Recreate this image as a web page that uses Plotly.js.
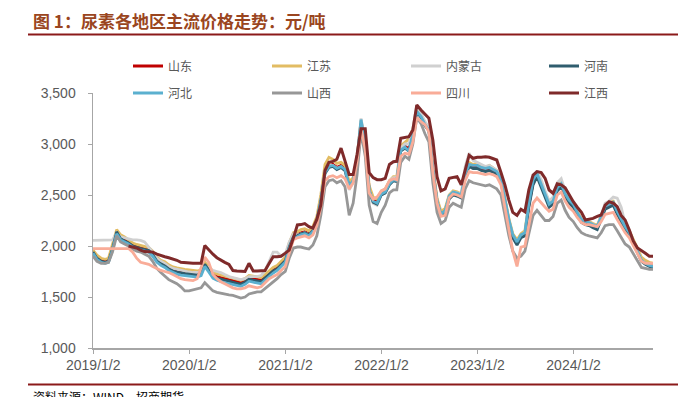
<!DOCTYPE html>
<html><head><meta charset="utf-8">
<script src="https://cdn.plot.ly/plotly-3.0.1.min.js"></script>
<style>html,body{margin:0;padding:0;background:#fff;}#chart{width:678px;height:397px;}</style>
</head><body><div id="chart"></div>
<script>
// semi-monthly sampling (1st and 16th of each month) from Jan 2019
const startYear = 2019;
const nPoints = 141;
const dates = [];
for (let i = 0; i < nPoints; i++) {
  const y = startYear + Math.floor(i / 24);
  const m = Math.floor((i % 24) / 2) + 1;
  const d = (i % 2 === 0) ? '01' : '16';
  dates.push(y + '-' + String(m).padStart(2, '0') + '-' + d);
}

const names = ['山东','江苏','内蒙古','河南','河北','山西','四川','江西'];

const shandong = [
1950,1890,1860,1850,1860,1980,2130,2080,2060,2040,2010,1995,1985,1975,1965,1930,1870,1840,1820,1790,1770,1760,1750,1745,
1740,1735,1730,1745,1830,1780,1720,1700,1690,1680,1670,1660,1650,1640,1660,1690,1680,1670,1665,1700,1740,1770,1790,1830,
1870,2000,2100,2110,2130,2140,2120,2160,2260,2460,2730,2790,2800,2770,2790,2760,2600,2650,2860,3220,3000,2560,2450,2430,
2520,2540,2620,2660,2650,2950,2980,2950,3100,3330,3280,3200,3150,2750,2450,2320,2350,2480,2520,2510,2490,2700,2800,2780,
2780,2760,2750,2760,2740,2720,2650,2450,2250,2100,2030,2100,2120,2400,2620,2700,2600,2500,2400,2430,2560,2600,2500,2440,
2400,2320,2250,2230,2220,2200,2180,2280,2380,2400,2420,2330,2250,2180,2130,2050,1950,1870,1840,1820,1810];

const jiangsu = [
1960,1910,1880,1870,1880,2010,2160,2110,2090,2060,2030,2015,2005,1995,1985,1950,1890,1860,1845,1815,1795,1785,1775,1770,
1765,1760,1755,1765,1840,1800,1745,1725,1715,1705,1695,1685,1675,1665,1680,1710,1705,1695,1690,1720,1760,1790,1810,1850,
1890,2030,2130,2140,2160,2170,2150,2190,2290,2500,2800,2870,2850,2810,2820,2790,2630,2670,2880,3230,3020,2590,2480,2460,
2540,2560,2640,2680,2680,2980,3020,3050,3150,3340,3290,3210,3160,2770,2470,2340,2370,2500,2540,2530,2510,2720,2820,2800,
2810,2790,2770,2790,2770,2740,2670,2470,2270,2120,2060,2120,2150,2420,2640,2720,2630,2520,2430,2450,2580,2630,2520,2460,
2420,2340,2270,2250,2240,2220,2200,2300,2400,2430,2440,2350,2270,2200,2150,2070,1970,1890,1860,1840,1830];

const neimenggu = [
2056,2056,2056,2056,2056,2060,2130,2090,2080,2070,2060,2060,2055,2040,1990,1940,1880,1850,1830,1800,1780,1770,1760,1750,
1745,1740,1740,1750,1800,1790,1760,1750,1740,1720,1700,1690,1680,1670,1680,1700,1700,1700,1710,1760,1850,1940,1940,1900,
1920,2040,2120,2110,2120,2130,2110,2150,2260,2450,2740,2800,2790,2760,2770,2740,2550,2620,2860,3250,3020,2540,2420,2400,
2500,2520,2640,2670,2670,2960,3000,3000,3150,3380,3300,3220,3160,2760,2440,2300,2330,2490,2530,2520,2510,2780,2910,2840,
2820,2800,2780,2790,2770,2740,2660,2460,2250,2100,2040,2100,2130,2420,2660,2740,2650,2540,2440,2480,2620,2660,2540,2460,
2410,2330,2260,2240,2230,2210,2190,2300,2420,2440,2480,2470,2380,2220,2150,2050,1950,1860,1830,1810,1800];

const henan = [
1940,1880,1850,1840,1850,1970,2140,2070,2050,2030,2000,1985,1975,1965,1955,1915,1850,1825,1805,1775,1755,1745,1735,1730,
1725,1720,1715,1730,1820,1765,1705,1685,1675,1665,1655,1645,1635,1625,1645,1675,1665,1655,1650,1685,1725,1755,1775,1815,
1855,1990,2090,2100,2120,2130,2110,2150,2250,2440,2710,2770,2780,2750,2770,2740,2580,2630,2840,3200,2980,2540,2430,2410,
2500,2520,2600,2640,2630,2930,2960,2930,3080,3310,3260,3180,3130,2730,2430,2300,2330,2460,2500,2490,2470,2680,2780,2760,
2760,2740,2730,2740,2720,2700,2630,2430,2230,2080,2010,2080,2100,2380,2600,2680,2580,2480,2380,2410,2540,2580,2480,2420,
2380,2300,2230,2210,2200,2180,2160,2260,2360,2380,2400,2310,2230,2160,2110,2030,1930,1850,1820,1800,1790];

const hebei = [
1930,1870,1840,1830,1840,1960,2120,2060,2040,2020,1990,1970,1960,1950,1940,1900,1840,1810,1790,1760,1740,1725,1715,1710,
1705,1700,1695,1710,1800,1745,1685,1665,1650,1640,1630,1620,1610,1605,1625,1655,1645,1635,1630,1665,1705,1735,1760,1800,
1840,1980,2080,2090,2110,2120,2100,2140,2240,2430,2720,2780,2790,2760,2780,2750,2590,2640,2860,3240,3000,2550,2440,2420,
2510,2530,2610,2650,2640,2940,2970,2930,3090,3320,3270,3190,3140,2740,2440,2310,2350,2490,2530,2520,2500,2710,2800,2790,
2790,2770,2760,2770,2750,2730,2660,2460,2260,2110,2040,2110,2130,2420,2650,2710,2610,2510,2410,2440,2570,2610,2510,2450,
2410,2330,2260,2240,2230,2210,2190,2290,2390,2410,2430,2340,2260,2190,2130,2050,1950,1860,1830,1810,1800];

const shanxi = [
1900,1850,1830,1830,1840,1940,2100,2040,2020,2000,1970,1950,1940,1920,1900,1850,1780,1740,1700,1670,1650,1630,1600,1560,
1560,1570,1580,1590,1640,1600,1560,1545,1535,1530,1520,1515,1500,1490,1500,1530,1540,1550,1550,1580,1620,1650,1680,1720,
1750,1880,1980,1990,1990,1980,1970,2010,2100,2300,2580,2640,2650,2620,2640,2580,2300,2420,2700,3120,2880,2400,2240,2220,
2330,2400,2520,2550,2550,2820,2880,2850,3000,3260,3200,3100,3020,2620,2330,2220,2250,2380,2420,2400,2380,2560,2640,2620,
2610,2600,2590,2600,2580,2560,2500,2300,2100,1950,1880,1900,1950,2120,2300,2350,2300,2250,2250,2290,2420,2450,2350,2280,
2240,2180,2130,2110,2100,2090,2080,2130,2200,2210,2210,2150,2080,2020,1990,1920,1850,1790,1780,1770,1770];

const sichuan = [
1975,1975,1975,1975,1975,1975,1975,1975,1975,1975,1940,1880,1840,1830,1820,1800,1780,1760,1750,1740,1720,1700,1680,1670,
1665,1660,1680,1800,1890,1840,1720,1680,1650,1630,1610,1590,1580,1580,1590,1610,1600,1590,1600,1640,1680,1700,1720,1760,
1800,1930,2060,2080,2090,2100,2080,2110,2200,2380,2640,2680,2690,2670,2690,2660,2560,2620,2830,3150,2950,2520,2460,2480,
2540,2560,2640,2660,2650,2880,2910,2900,3020,3260,3220,3190,3120,2720,2420,2290,2300,2470,2510,2500,2480,2640,2730,2720,
2720,2710,2700,2710,2700,2680,2600,2380,2150,1950,1800,1990,2000,2200,2420,2470,2420,2380,2340,2360,2500,2530,2440,2380,
2340,2280,2230,2210,2210,2200,2190,2240,2310,2320,2330,2260,2190,2130,2080,2010,1920,1850,1830,1830,1830];

const jiangxi = [
null,null,null,null,null,null,null,null,null,2000,1990,1980,1960,1945,1944,1940,1920,1905,1895,1885,1875,1860,1840,1836,
1830,1830,1830,1830,2005,1960,1920,1885,1860,1840,1820,1760,1755,1750,1750,1830,1755,1755,1755,1760,1830,1895,1895,1900,
1930,1960,2080,2206,2210,2220,2190,2175,2260,2400,2740,2820,2830,2850,2960,2840,2700,2700,2900,3150,3150,2720,2670,2650,
2650,2663,2800,2827,2830,3056,3065,3072,3137,3382,3333,3290,3252,3040,2680,2540,2560,2663,2670,2680,2600,2750,2890,2860,
2870,2870,2875,2870,2860,2843,2720,2600,2450,2330,2300,2360,2336,2550,2696,2729,2720,2663,2549,2517,2610,2600,2570,2500,
2434,2380,2330,2255,2260,2271,2290,2304,2400,2434,2420,2385,2300,2255,2157,2050,1980,1950,1928,1900,1900];

const seriesValues = [shandong, jiangsu, neimenggu, henan, hebei, shanxi, sichuan, jiangxi];
const colors = ['#C00000','#E2BC63','#D0D0D0','#2F5D6E','#5BB0CF','#979797','#F9AC98','#7F2A2A'];
const widths = [2.8,2.8,2.8,2.8,2.8,2.8,2.8,3];

const tickDates = ['2019-01-02','2020-01-02','2021-01-02','2022-01-02','2023-01-02','2024-01-02'];
const tickLabels = ['2019/1/2','2020/1/2','2021/1/2','2022/1/2','2023/1/2','2024/1/2'];

const W = 678, H = 397, L = 93, R = 25, T = 93, B = 49;
const pw = W - L - R, ph = H - T - B;
const px = v => (v - L) / pw;
const py = v => (H - B - v) / ph;

// legend slots: column line starts (px) and row centres (px)
const legendCols = [133, 272, 411, 549];
const legendRows = [66, 93];

const traces = names.map((n, k) => ({
  type: 'scatter', mode: 'lines', name: n, x: dates, y: seriesValues[k],
  line: {color: colors[k], width: widths[k]},
  legend: k === 0 ? 'legend' : 'legend' + (k + 1),
  connectgaps: false, hoverinfo: 'skip'
}));

const legendFont = {family: 'Noto Sans CJK SC, sans-serif', size: 12, color: '#595959'};

const layout = {
  width: W, height: H,
  margin: {l: L, r: R, t: T, b: B},
  paper_bgcolor: '#ffffff', plot_bgcolor: '#ffffff',
  showlegend: true,
  title: {
    text: '<b>图 1：尿素各地区主流价格走势：元/吨</b>',
    xref: 'container', yref: 'container', x: 33 / W, xanchor: 'left',
    y: 1 - 22 / H, yanchor: 'middle',
    font: {family: 'Noto Sans CJK SC, sans-serif', size: 17, color: '#9A4520'}
  },
  xaxis: {
    type: 'date', range: ['2019-01-01', '2024-10-30'],
    tickvals: tickDates, ticktext: tickLabels,
    showgrid: false, zeroline: false, showline: true,
    linecolor: '#A6A6A6', linewidth: 1.5,
    ticks: 'outside', ticklen: 4, tickcolor: '#A6A6A6', tickwidth: 1,
    tickfont: {family: 'Liberation Sans, Arial, sans-serif', size: 14, color: '#595959'}
  },
  yaxis: {
    range: [1000, 3500], dtick: 500, tick0: 1000, tickformat: ',',
    showgrid: false, zeroline: false, showline: true,
    linecolor: '#A6A6A6', linewidth: 1.5,
    ticks: 'outside', ticklen: 4, tickcolor: '#A6A6A6', tickwidth: 1,
    ticklabelstandoff: 9,
    tickfont: {family: 'Liberation Sans, Arial, sans-serif', size: 14, color: '#595959'}
  },
  shapes: [
    {type: 'line', xref: 'paper', yref: 'paper', x0: px(28), x1: px(678), y0: py(34.5), y1: py(34.5),
     line: {color: '#8B1A1A', width: 2}},
    {type: 'line', xref: 'paper', yref: 'paper', x0: px(28), x1: px(678), y0: py(384.5), y1: py(384.5),
     line: {color: '#8B1A1A', width: 2}}
  ],
  annotations: [
    {text: '资料来源：WIND，招商期货', xref: 'paper', yref: 'paper', x: px(31), xanchor: 'left',
     y: py(396), yanchor: 'middle', showarrow: false,
     font: {family: 'Noto Sans CJK SC, sans-serif', size: 12, color: '#000000'}}
  ]
};

names.forEach((n, k) => {
  const key = k === 0 ? 'legend' : 'legend' + (k + 1);
  layout[key] = {
    orientation: 'h', x: px(legendCols[k % 4] - 5), xanchor: 'left',
    y: py(legendRows[Math.floor(k / 4)]), yanchor: 'middle',
    bgcolor: 'rgba(0,0,0,0)', borderwidth: 0, font: legendFont
  };
});

Plotly.newPlot('chart', traces, layout, {displayModeBar: false, staticPlot: true});
</script></body></html>
